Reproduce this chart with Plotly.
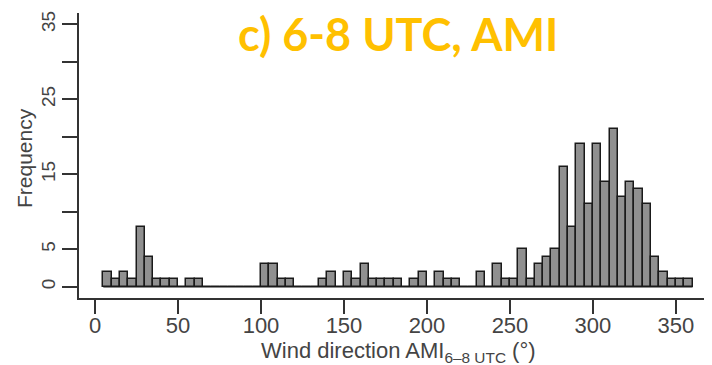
import plotly.graph_objects as go

# Histogram data (5-degree bins, left edges 5..355)
bin_width = 5
bin_left = list(range(5, 360, 5))
counts = [2, 1, 2, 1, 8, 4, 1, 1, 1, 0,
          1, 1, 0, 0, 0, 0, 0, 0, 0, 3,
          3, 1, 1, 0, 0, 0, 1, 2, 0, 2,
          1, 3, 1, 1, 1, 1, 0, 1, 2, 0,
          2, 1, 1, 0, 0, 2, 0, 3, 1, 1,
          5, 1, 3, 4, 5, 16, 8, 19, 11, 19,
          14, 21, 12, 14, 13, 11, 4, 2, 1, 1,
          1]
x_tick_vals = [0, 50, 100, 150, 200, 250, 300, 350]
y_tick_vals = [0, 5, 15, 25, 35]
y_unlabeled_ticks = [10, 20, 30]
title_text = "c) 6-8 UTC, AMI"
x_title = "Wind direction AMI<sub>6\u20138 UTC</sub> (\u00b0)"
y_title = "Frequency"

centers = [b + bin_width / 2 for b in bin_left]
edges = [bin_left[0], bin_left[-1] + bin_width]

fig = go.Figure()
fig.add_trace(go.Scatter(x=edges, y=[0, 0], mode="lines",
                         line=dict(color="#1a1a1a", width=1.5),
                         hoverinfo="skip", showlegend=False))
fig.add_trace(go.Bar(x=centers, y=counts, width=bin_width,
                     marker=dict(color="#909090",
                                 line=dict(color="#1a1a1a", width=1.5)),
                     showlegend=False))

# The page body has an 8px margin, so the figure is drawn 8px in from the corner.
OFF = 8
W, H = 712 - OFF, 365 - OFF
ml, mr, mt, mb = 79 - OFF, 0, 13 - OFF, H - (298 - OFF)
axis_font = "Liberation Sans, Arial, sans-serif"
fig.update_layout(
    width=W, height=H,
    margin=dict(l=ml, r=mr, t=mt, b=mb, autoexpand=False),
    paper_bgcolor="white", plot_bgcolor="white",
    bargap=0,
    font=dict(family=axis_font, color="#333333"),
    xaxis=dict(range=[-9.64, 371.7], tickvals=x_tick_vals, automargin=False,
               ticks="outside", ticklen=14, tickwidth=1.8, tickcolor="#333333",
               ticklabelstandoff=-7,
               showline=True, linecolor="#333333", linewidth=1.8,
               showgrid=False, zeroline=False,
               tickfont=dict(family=axis_font, size=22, color="#444444")),
    yaxis=dict(range=[-1.5, 36.5], tickvals=y_tick_vals,
               tickangle=-90, automargin=False,
               ticks="outside", ticklen=15, tickwidth=1.8, tickcolor="#333333",
               minor=dict(tickvals=y_unlabeled_ticks, ticks="outside", ticklen=15,
                          tickwidth=1.8, tickcolor="#333333", showgrid=False),
               showline=True, linecolor="#333333", linewidth=1.8,
               showgrid=False, zeroline=False,
               tickfont=dict(family=axis_font, size=19, color="#444444")),
)

pw = W - ml - mr
ph = H - mt - mb


def px(x):
    return (x - OFF - ml) / pw


def py(y):
    return (H - mb - (y - OFF)) / ph


fig.add_annotation(text=y_title, xref="paper", yref="paper",
                   x=px(24), y=py(158),
                   xanchor="center", yanchor="middle", textangle=-90,
                   showarrow=False,
                   font=dict(family=axis_font, size=21, color="#444444"))
fig.add_annotation(text=x_title, xref="paper", yref="paper",
                   x=px(398), y=py(352),
                   xanchor="center", yanchor="middle",
                   showarrow=False,
                   font=dict(family=axis_font, size=22, color="#444444"))
fig.add_annotation(text="<b>" + title_text + "</b>", xref="paper", yref="paper",
                   x=px(398), y=py(34),
                   xanchor="center", yanchor="middle",
                   showarrow=False,
                   font=dict(family="Lato, Open Sans, sans-serif", size=45, color="#FFC000"))

fig.write_html("out.html")
